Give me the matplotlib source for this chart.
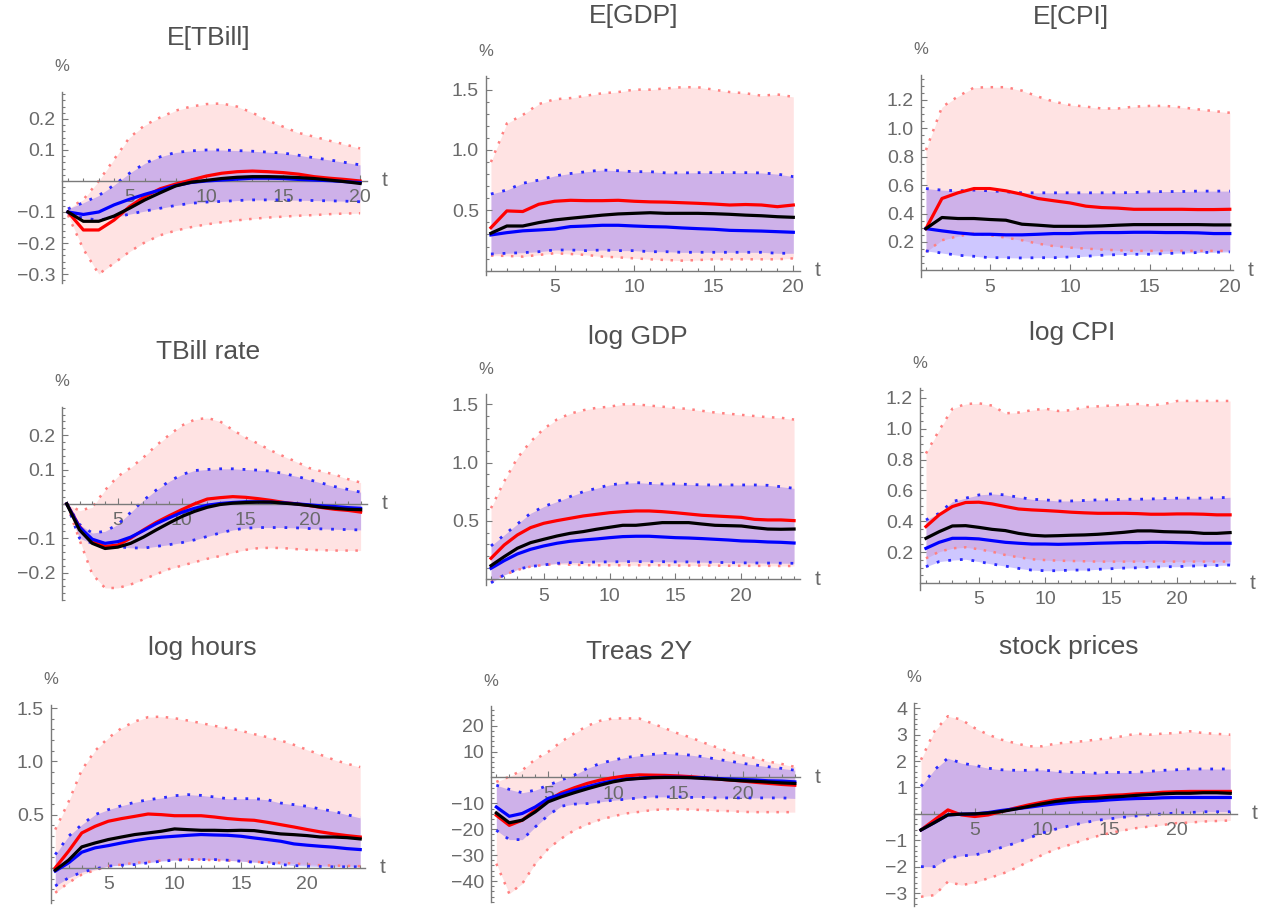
"""Impulse responses (3x3 grid) with two confidence bands, Mathematica-style axes."""

import matplotlib

matplotlib.use("Agg")
import matplotlib.pyplot as plt
import numpy as np
from matplotlib.ticker import MultipleLocator
from matplotlib.transforms import blended_transform_factory

W, H = 1264, 909

# horizons
t20 = np.arange(1, 21)
t24 = np.arange(1, 25)

# ---- E[TBill] ----
etbill_red = [-0.10, -0.158, -0.158, -0.126, -0.083, -0.05, -0.025, -0.01, 0.003, 0.016,
              0.025, 0.03, 0.032, 0.03, 0.027, 0.022, 0.014, 0.009, 0.005, 0.0]
etbill_black = [-0.10, -0.13, -0.13, -0.113, -0.088, -0.061, -0.038, -0.016, -0.004, 0.002,
                0.008, 0.012, 0.014, 0.014, 0.013, 0.011, 0.008, 0.003, -0.002, -0.008]
etbill_blue = [-0.10, -0.108, -0.10, -0.077, -0.059, -0.043, -0.029, -0.015, -0.005, 0.0,
               0.003, 0.006, 0.009, 0.009, 0.008, 0.005, 0.003, 0.001, -0.002, -0.005]
etbill_red_hi = [-0.09, -0.06, 0.0, 0.07, 0.14, 0.18, 0.205, 0.227, 0.24, 0.248,
                 0.25, 0.24, 0.22, 0.195, 0.175, 0.155, 0.143, 0.13, 0.118, 0.105]
etbill_red_lo = [-0.11, -0.22, -0.30, -0.265, -0.228, -0.198, -0.175, -0.16, -0.149, -0.14,
                 -0.133, -0.127, -0.122, -0.118, -0.115, -0.112, -0.11, -0.107, -0.105, -0.104]
etbill_blue_hi = [-0.09, -0.07, -0.047, -0.013, 0.025, 0.057, 0.078, 0.092, 0.097, 0.1,
                  0.1, 0.098, 0.096, 0.093, 0.09, 0.083, 0.075, 0.068, 0.06, 0.052]
etbill_blue_lo = [-0.105, -0.12, -0.126, -0.118, -0.107, -0.097, -0.088, -0.079, -0.072, -0.068,
                  -0.066, -0.063, -0.061, -0.061, -0.061, -0.062, -0.063, -0.064, -0.065, -0.067]

# ---- E[GDP] ----
egdp_red = [0.356, 0.495, 0.49, 0.55, 0.575, 0.583, 0.58, 0.58, 0.583, 0.575,
            0.57, 0.568, 0.563, 0.558, 0.552, 0.544, 0.548, 0.544, 0.53, 0.544]
egdp_black = [0.31, 0.37, 0.37, 0.398, 0.42, 0.434, 0.447, 0.46, 0.47, 0.475,
              0.48, 0.475, 0.475, 0.475, 0.472, 0.467, 0.46, 0.455, 0.447, 0.442]
egdp_blue = [0.296, 0.315, 0.33, 0.337, 0.345, 0.365, 0.37, 0.376, 0.376, 0.37,
             0.365, 0.362, 0.354, 0.348, 0.343, 0.334, 0.331, 0.328, 0.323, 0.318]
egdp_red_hi = [0.9, 1.22, 1.29, 1.38, 1.42, 1.43, 1.45, 1.47, 1.48, 1.5,
               1.5, 1.51, 1.52, 1.52, 1.5, 1.48, 1.47, 1.45, 1.46, 1.44]
egdp_red_lo = [0.125, 0.122, 0.116, 0.13, 0.144, 0.138, 0.13, 0.116, 0.11, 0.102,
               0.094, 0.088, 0.083, 0.088, 0.094, 0.094, 0.094, 0.094, 0.094, 0.102]
egdp_blue_hi = [0.635, 0.668, 0.724, 0.75, 0.785, 0.805, 0.82, 0.834, 0.828, 0.82,
                0.82, 0.81, 0.81, 0.812, 0.812, 0.812, 0.812, 0.81, 0.8, 0.779]
egdp_blue_lo = [0.138, 0.144, 0.149, 0.157, 0.171, 0.171, 0.166, 0.171, 0.166, 0.166,
                0.157, 0.157, 0.152, 0.152, 0.152, 0.152, 0.152, 0.152, 0.144, 0.144]

# ---- E[CPI] ----
ecpi_red = [0.294, 0.506, 0.546, 0.576, 0.576, 0.56, 0.536, 0.506, 0.49, 0.475,
            0.452, 0.442, 0.438, 0.43, 0.43, 0.43, 0.43, 0.428, 0.428, 0.43]
ecpi_black = [0.294, 0.372, 0.365, 0.365, 0.358, 0.353, 0.325, 0.318, 0.31, 0.31,
              0.31, 0.313, 0.318, 0.322, 0.322, 0.322, 0.322, 0.322, 0.32, 0.32]
ecpi_blue = [0.294, 0.278, 0.264, 0.254, 0.254, 0.25, 0.25, 0.254, 0.259, 0.259,
             0.264, 0.266, 0.266, 0.268, 0.268, 0.266, 0.266, 0.264, 0.259, 0.259]
ecpi_red_hi = [0.847, 1.15, 1.225, 1.287, 1.29, 1.29, 1.266, 1.224, 1.188, 1.165,
               1.153, 1.14, 1.14, 1.153, 1.158, 1.158, 1.148, 1.134, 1.122, 1.11]
ecpi_red_lo = [0.13, 0.212, 0.24, 0.26, 0.247, 0.23, 0.212, 0.188, 0.17, 0.16,
               0.153, 0.146, 0.141, 0.137, 0.137, 0.137, 0.137, 0.137, 0.137, 0.137]
ecpi_blue_hi = [0.576, 0.565, 0.56, 0.565, 0.56, 0.553, 0.546, 0.546, 0.546, 0.546,
                0.546, 0.546, 0.546, 0.548, 0.553, 0.555, 0.555, 0.558, 0.558, 0.558]
ecpi_blue_lo = [0.137, 0.122, 0.106, 0.099, 0.089, 0.089, 0.087, 0.089, 0.089, 0.094,
                0.099, 0.106, 0.111, 0.113, 0.113, 0.118, 0.122, 0.125, 0.127, 0.13]

# ---- TBill rate ----
tbill_red = [0.0, -0.066, -0.11, -0.124, -0.12, -0.1, -0.076, -0.054, -0.035, -0.017, 0.0, 0.014,
             0.018, 0.021, 0.019, 0.015, 0.01, 0.004, 0.0, -0.005, -0.011, -0.016, -0.019, -0.024]
tbill_black = [0.0, -0.076, -0.115, -0.13, -0.126, -0.115, -0.097, -0.076, -0.056, -0.037, -0.022, -0.01,
               -0.002, 0.002, 0.004, 0.005, 0.005, 0.002, -0.001, -0.005, -0.01, -0.013, -0.016, -0.017]
tbill_blue = [0.0, -0.068, -0.103, -0.115, -0.11, -0.097, -0.078, -0.058, -0.041, -0.025, -0.013, -0.004,
              0.001, 0.004, 0.006, 0.006, 0.005, 0.003, 0.0, -0.003, -0.006, -0.008, -0.011, -0.013]
tbill_red_hi = [0.0, -0.02, -0.01, 0.04, 0.08, 0.105, 0.135, 0.17, 0.2, 0.228, 0.245, 0.25,
                0.24, 0.215, 0.193, 0.175, 0.155, 0.138, 0.122, 0.104, 0.094, 0.085, 0.072, 0.062]
tbill_red_lo = [0.0, -0.105, -0.205, -0.245, -0.245, -0.235, -0.22, -0.205, -0.19, -0.18, -0.17, -0.16,
                -0.152, -0.142, -0.134, -0.129, -0.128, -0.129, -0.132, -0.134, -0.135, -0.136, -0.136, -0.136]
tbill_blue_hi = [0.0, -0.06, -0.085, -0.08, -0.06, -0.025, 0.01, 0.04, 0.065, 0.085, 0.097, 0.1,
                 0.102, 0.102, 0.1, 0.098, 0.095, 0.088, 0.08, 0.07, 0.06, 0.05, 0.042, 0.034]
tbill_blue_lo = [0.0, -0.1, -0.115, -0.12, -0.125, -0.128, -0.129, -0.124, -0.119, -0.113, -0.105, -0.095,
                 -0.085, -0.076, -0.071, -0.069, -0.069, -0.069, -0.07, -0.072, -0.073, -0.074, -0.075, -0.076]

# ---- log GDP ----
lgdp_red = [0.18, 0.294, 0.38, 0.443, 0.48, 0.503, 0.523, 0.543, 0.557, 0.571, 0.58, 0.586,
            0.586, 0.58, 0.571, 0.56, 0.549, 0.543, 0.537, 0.531, 0.514, 0.509, 0.509, 0.503]
lgdp_black = [0.117, 0.194, 0.266, 0.314, 0.343, 0.371, 0.394, 0.409, 0.429, 0.446, 0.463, 0.463,
              0.474, 0.486, 0.486, 0.486, 0.474, 0.463, 0.46, 0.457, 0.443, 0.431, 0.429, 0.431]
lgdp_blue = [0.094, 0.16, 0.217, 0.257, 0.286, 0.309, 0.326, 0.337, 0.346, 0.357, 0.366, 0.369,
             0.369, 0.363, 0.357, 0.354, 0.349, 0.343, 0.337, 0.329, 0.326, 0.32, 0.317, 0.311]
lgdp_red_hi = [0.61, 0.84, 1.04, 1.18, 1.29, 1.37, 1.42, 1.45, 1.47, 1.48, 1.5, 1.5,
               1.49, 1.48, 1.47, 1.46, 1.445, 1.43, 1.42, 1.41, 1.4, 1.39, 1.385, 1.37]
lgdp_red_lo = [-0.02, 0.037, 0.08, 0.109, 0.123, 0.131, 0.125, 0.122, 0.12, 0.12, 0.12, 0.12,
               0.12, 0.12, 0.118, 0.118, 0.118, 0.117, 0.116, 0.116, 0.115, 0.115, 0.114, 0.114]
lgdp_blue_hi = [0.286, 0.38, 0.474, 0.566, 0.623, 0.666, 0.709, 0.751, 0.78, 0.809, 0.823, 0.829,
                0.823, 0.817, 0.817, 0.814, 0.809, 0.809, 0.809, 0.809, 0.809, 0.806, 0.794, 0.78]
lgdp_blue_lo = [-0.03, 0.037, 0.086, 0.109, 0.123, 0.137, 0.143, 0.143, 0.149, 0.149, 0.151, 0.151,
                0.151, 0.151, 0.149, 0.149, 0.147, 0.145, 0.143, 0.141, 0.14, 0.139, 0.138, 0.137]

# ---- log CPI ----
lcpi_red = [0.366, 0.442, 0.496, 0.522, 0.524, 0.513, 0.496, 0.48, 0.474, 0.47, 0.465, 0.459,
            0.455, 0.452, 0.452, 0.452, 0.45, 0.446, 0.446, 0.448, 0.448, 0.446, 0.442, 0.442]
lcpi_black = [0.29, 0.333, 0.37, 0.372, 0.361, 0.348, 0.34, 0.322, 0.31, 0.305, 0.307, 0.31,
              0.312, 0.316, 0.322, 0.329, 0.338, 0.338, 0.333, 0.331, 0.329, 0.322, 0.322, 0.327]
lcpi_blue = [0.225, 0.264, 0.29, 0.29, 0.286, 0.275, 0.264, 0.258, 0.253, 0.253, 0.251, 0.253,
             0.255, 0.258, 0.26, 0.262, 0.262, 0.264, 0.264, 0.262, 0.26, 0.258, 0.258, 0.258]
lcpi_red_hi = [0.84, 0.99, 1.13, 1.16, 1.165, 1.15, 1.1, 1.105, 1.12, 1.13, 1.115, 1.12,
               1.14, 1.145, 1.15, 1.155, 1.16, 1.15, 1.16, 1.18, 1.18, 1.18, 1.18, 1.18]
lcpi_red_lo = [0.16, 0.203, 0.225, 0.232, 0.219, 0.203, 0.182, 0.167, 0.154, 0.149, 0.145, 0.143,
               0.141, 0.139, 0.139, 0.139, 0.139, 0.139, 0.139, 0.139, 0.139, 0.139, 0.139, 0.139]
lcpi_blue_hi = [0.409, 0.452, 0.528, 0.55, 0.571, 0.578, 0.571, 0.556, 0.543, 0.539, 0.532, 0.532,
                0.535, 0.539, 0.539, 0.543, 0.543, 0.545, 0.547, 0.55, 0.55, 0.55, 0.552, 0.556]
lcpi_blue_lo = [0.106, 0.139, 0.149, 0.154, 0.139, 0.123, 0.11, 0.095, 0.084, 0.08, 0.08, 0.084,
                0.084, 0.089, 0.093, 0.097, 0.099, 0.102, 0.106, 0.106, 0.11, 0.112, 0.114, 0.117]

# ---- log hours ----
hours_red = [0.0, 0.156, 0.328, 0.39, 0.438, 0.463, 0.484, 0.506, 0.5, 0.49, 0.49, 0.49,
             0.478, 0.463, 0.453, 0.447, 0.428, 0.406, 0.384, 0.36, 0.338, 0.319, 0.303, 0.29]
hours_black = [-0.022, 0.072, 0.197, 0.234, 0.266, 0.29, 0.313, 0.328, 0.344, 0.366, 0.359, 0.353,
               0.353, 0.35, 0.353, 0.35, 0.334, 0.319, 0.312, 0.303, 0.29, 0.29, 0.284, 0.272]
hours_blue = [-0.03, 0.047, 0.147, 0.188, 0.209, 0.234, 0.256, 0.275, 0.288, 0.297, 0.306, 0.313,
              0.309, 0.306, 0.297, 0.281, 0.266, 0.25, 0.225, 0.213, 0.203, 0.194, 0.181, 0.172]
hours_red_hi = [0.36, 0.62, 0.92, 1.1, 1.22, 1.313, 1.375, 1.416, 1.42, 1.406, 1.384, 1.36,
                1.334, 1.313, 1.288, 1.256, 1.228, 1.197, 1.156, 1.109, 1.063, 1.016, 0.978, 0.947]
hours_red_lo = [-0.234, -0.14, -0.063, -0.022, 0.016, 0.031, 0.047, 0.056, 0.069, 0.078, 0.078, 0.078,
                0.072, 0.069, 0.063, 0.056, 0.053, 0.047, 0.041, 0.031, 0.025, 0.022, 0.019, 0.016]
hours_blue_hi = [0.125, 0.297, 0.406, 0.5, 0.547, 0.584, 0.616, 0.64, 0.656, 0.678, 0.688, 0.681,
                 0.666, 0.65, 0.65, 0.65, 0.64, 0.609, 0.594, 0.578, 0.553, 0.531, 0.5, 0.469]
hours_blue_lo = [-0.17, -0.094, -0.04, -0.01, 0.016, 0.025, 0.031, 0.047, 0.063, 0.072, 0.078, 0.078,
                 0.078, 0.072, 0.063, 0.053, 0.047, 0.031, 0.022, 0.016, 0.013, 0.01, 0.01, 0.01]

# ---- Treas 2Y ----
treas_red = [-14.6, -18.5, -16.5, -12.6, -8.8, -5.9, -4.0, -2.3, -1.0, -0.1, 0.6, 1.0,
             0.9, 0.8, 0.6, 0.3, -0.1, -0.6, -1.0, -1.4, -1.9, -2.3, -2.7, -3.0]
treas_black = [-13.7, -17.5, -16.5, -13.3, -9.4, -7.5, -5.9, -4.4, -3.0, -1.7, -0.8, -0.4,
               -0.1, 0.0, 0.0, -0.1, -0.4, -0.6, -1.0, -1.3, -1.5, -1.8, -2.1, -2.3]
treas_blue = [-11.4, -15.0, -13.9, -11.4, -8.1, -6.5, -4.9, -3.6, -2.3, -1.3, -0.6, -0.3,
              0.0, 0.1, 0.1, 0.0, -0.1, -0.4, -0.6, -0.8, -1.0, -1.3, -1.4, -1.7]
treas_red_hi = [-1.7, 0.3, 2.8, 7.0, 9.9, 13.8, 17.0, 19.9, 21.9, 22.8, 22.8, 22.8,
                20.9, 19.0, 17.0, 15.4, 13.4, 11.6, 9.9, 8.6, 7.4, 6.1, 5.2, 4.1]
treas_red_lo = [-33.3, -44.9, -41.0, -33.3, -27.5, -23.6, -20.4, -18.1, -16.3, -15.0, -13.9, -13.3,
                -12.6, -12.3, -12.3, -12.4, -12.6, -12.9, -13.0, -13.3, -13.4, -13.4, -13.4, -13.4]
treas_blue_hi = [-3.0, -4.6, -5.9, -4.9, -3.0, -1.0, 0.9, 3.5, 5.4, 6.7, 7.7, 8.4,
                 8.9, 9.3, 9.0, 8.6, 8.0, 7.0, 6.3, 5.4, 4.8, 4.1, 3.5, 2.8]
treas_blue_lo = [-20.4, -24.0, -24.0, -19.1, -14.6, -11.1, -10.3, -10.1, -9.4, -8.8, -8.4, -7.9,
                 -7.5, -7.5, -7.5, -7.7, -7.7, -7.9, -7.9, -7.9, -7.9, -7.9, -7.9, -8.1]

# ---- stock prices ----
stock_red = [-0.61, -0.23, 0.15, -0.04, -0.1, -0.04, 0.09, 0.22, 0.34, 0.44, 0.53, 0.59,
             0.63, 0.66, 0.7, 0.72, 0.76, 0.78, 0.82, 0.84, 0.85, 0.85, 0.85, 0.85]
stock_black = [-0.61, -0.33, -0.04, -0.01, 0.0, 0.03, 0.09, 0.18, 0.28, 0.38, 0.47, 0.53,
               0.57, 0.59, 0.63, 0.66, 0.7, 0.73, 0.76, 0.78, 0.78, 0.8, 0.8, 0.78]
stock_blue = [-0.61, -0.33, -0.04, -0.01, 0.0, 0.05, 0.13, 0.19, 0.25, 0.32, 0.38, 0.43,
              0.47, 0.49, 0.53, 0.56, 0.58, 0.59, 0.61, 0.62, 0.62, 0.62, 0.62, 0.62]
stock_red_hi = [2.05, 3.13, 3.7, 3.57, 3.25, 3.0, 2.81, 2.68, 2.56, 2.56, 2.66, 2.71,
                2.75, 2.81, 2.87, 2.94, 3.04, 3.0, 3.04, 3.06, 3.13, 3.06, 3.03, 3.0]
stock_red_lo = [-3.14, -3.08, -2.57, -2.7, -2.61, -2.44, -2.28, -2.06, -1.81, -1.56, -1.34, -1.18,
                -1.01, -0.86, -0.73, -0.63, -0.54, -0.48, -0.42, -0.35, -0.33, -0.29, -0.27, -0.25]
stock_blue_hi = [1.04, 1.67, 2.11, 1.92, 1.84, 1.73, 1.67, 1.65, 1.65, 1.67, 1.61, 1.57,
                 1.57, 1.54, 1.57, 1.57, 1.57, 1.61, 1.65, 1.67, 1.7, 1.7, 1.7, 1.7]
stock_blue_lo = [-2.0, -2.0, -1.68, -1.59, -1.56, -1.43, -1.27, -1.11, -0.92, -0.73, -0.58, -0.46,
                 -0.35, -0.25, -0.19, -0.13, -0.08, -0.04, 0.0, 0.03, 0.05, 0.08, 0.08, 0.08]

titles = ["E[TBill]", "E[GDP]", "E[CPI]", "TBill rate", "log GDP", "log CPI",
          "log hours", "Treas 2Y", "stock prices"]
x_ticks = [5, 10, 15, 20]
y_ticks = [
    [-0.3, -0.2, -0.1, 0.1, 0.2],
    [0.5, 1.0, 1.5],
    [0.2, 0.4, 0.6, 0.8, 1.0, 1.2],
    [-0.2, -0.1, 0.1, 0.2],
    [0.5, 1.0, 1.5],
    [0.2, 0.4, 0.6, 0.8, 1.0, 1.2],
    [0.5, 1.0, 1.5],
    [-40, -30, -20, -10, 10, 20],
    [-3, -2, -1, 1, 2, 3, 4],
]

series = [
    (t20, etbill_red, etbill_black, etbill_blue, etbill_red_hi, etbill_red_lo, etbill_blue_hi, etbill_blue_lo),
    (t20, egdp_red, egdp_black, egdp_blue, egdp_red_hi, egdp_red_lo, egdp_blue_hi, egdp_blue_lo),
    (t20, ecpi_red, ecpi_black, ecpi_blue, ecpi_red_hi, ecpi_red_lo, ecpi_blue_hi, ecpi_blue_lo),
    (t24, tbill_red, tbill_black, tbill_blue, tbill_red_hi, tbill_red_lo, tbill_blue_hi, tbill_blue_lo),
    (t24, lgdp_red, lgdp_black, lgdp_blue, lgdp_red_hi, lgdp_red_lo, lgdp_blue_hi, lgdp_blue_lo),
    (t24, lcpi_red, lcpi_black, lcpi_blue, lcpi_red_hi, lcpi_red_lo, lcpi_blue_hi, lcpi_blue_lo),
    (t24, hours_red, hours_black, hours_blue, hours_red_hi, hours_red_lo, hours_blue_hi, hours_blue_lo),
    (t24, treas_red, treas_black, treas_blue, treas_red_hi, treas_red_lo, treas_blue_hi, treas_blue_lo),
    (t24, stock_red, stock_black, stock_blue, stock_red_hi, stock_red_lo, stock_blue_hi, stock_blue_lo),
]

# layout: pixel box (left, top, right, bottom), title centre, axis ranges, minor step, decimals
boxes = [
    (62, 92, 367, 283), (486, 76, 800, 275), (921, 75, 1233, 277),
    (62, 407, 367, 600), (486, 394, 800, 585), (920, 388, 1235, 590),
    (51, 705, 365, 903), (491, 706, 800, 902), (914, 703, 1237, 906),
]
title_xy = [(209, 38), (634, 16), (1071, 17), (208, 352), (638, 337), (1072, 333),
            (202, 648), (639, 652), (1069, 647)]
xlims = [(0.61, 20.45), (0.69, 20.42), (0.69, 20.2),
         (0.63, 24.5), (0.62, 24.45), (0.55, 24.37),
         (0.68, 24.36), (0.59, 24.4), (0.48, 24.5)]
ylims = [(-0.329, 0.287), (-0.036, 1.613), (-0.047, 1.376),
         (-0.28, 0.282), (-0.049, 1.589), (-0.045, 1.264),
         (-0.33, 1.53), (-48.1, 27.6), (-3.49, 4.2)]
minor_steps = [0.02, 0.1, 0.05, 0.02, 0.1, 0.05, 0.1, 2, 0.2]
decimals = [1, 1, 1, 1, 1, 1, 1, 0, 0]

AX_COL = "#7a7a7a"
TXT_COL = "#6a6a6a"
TITLE_COL = "#505050"
FONT = "Liberation Sans"


def fmt(v, nd):
    return f"{v:.{nd}f}".replace("-", "\u2212")


def draw_panel(ax, data, yt, nd, xlim, ylim, minor):
    t, red, black, blue, red_hi, red_lo, blue_hi, blue_lo = data
    ax.fill_between(t, red_lo, red_hi, color="#ff0000", alpha=0.11, lw=0, zorder=1)
    ax.fill_between(t, blue_lo, blue_hi, color="#2000ff", alpha=0.22, lw=0, zorder=1.1)
    for s in (red_hi, red_lo):
        ax.plot(t, s, color="#ff8080", lw=1.8, ls=(0, (1, 3)), zorder=2)
    for s in (blue_hi, blue_lo):
        ax.plot(t, s, color="#2a2aff", lw=2.0, ls=(0, (1, 3.2)), zorder=2)
    ax.plot(t, red, color="#ff0000", lw=2.3, zorder=3)
    ax.plot(t, blue, color="#0000ff", lw=2.3, zorder=3)
    ax.plot(t, black, color="#000000", lw=2.3, zorder=3)

    ax.set_xlim(*xlim)
    ax.set_ylim(*ylim)
    ax.set_facecolor("none")
    for side in ("top", "right"):
        ax.spines[side].set_visible(False)
    ax.spines["bottom"].set_position(("data", 0))
    for side in ("left", "bottom"):
        ax.spines[side].set_color(AX_COL)
        ax.spines[side].set_linewidth(1.0)

    ax.set_xticks(x_ticks)
    ax.set_xticklabels([str(v) for v in x_ticks])
    ax.set_yticks(yt)
    ax.set_yticklabels([fmt(v, nd) for v in yt])
    ax.xaxis.set_minor_locator(MultipleLocator(1))
    ax.yaxis.set_minor_locator(MultipleLocator(minor))
    ax.tick_params(which="both", direction="in", color=AX_COL, width=0.8)
    ax.tick_params(which="major", length=4.5)
    ax.tick_params(which="minor", length=2.2)
    ax.tick_params(axis="x", which="major", pad=6, labelsize=14, labelcolor=TXT_COL)
    ax.tick_params(axis="y", which="major", pad=5, labelsize=14, labelcolor=TXT_COL)
    for lab in ax.get_xticklabels() + ax.get_yticklabels():
        lab.set_fontfamily(FONT)

    # axis labels placed like Mathematica's AxesLabel
    ax.annotate("%", xy=(0, 1), xycoords="axes fraction", xytext=(0, 18),
                textcoords="offset points", ha="center", va="center",
                fontsize=12, color=TXT_COL, family=FONT)
    tr = blended_transform_factory(ax.transAxes, ax.transData)
    ax.annotate("t", xy=(1, 0), xycoords=tr, xytext=(13, 0),
                textcoords="offset points", ha="center", va="center",
                fontsize=15, color=TXT_COL, family=FONT)


def main():
    fig = plt.figure(figsize=(W / 100, H / 100), dpi=100)
    for i in range(9):
        left, top, right, bottom = boxes[i]
        ax = fig.add_axes([left / W, 1 - bottom / H, (right - left) / W, (bottom - top) / H])
        draw_panel(ax, series[i], y_ticks[i], decimals[i], xlims[i], ylims[i], minor_steps[i])
        tx, ty = title_xy[i]
        fig.text(tx / W, 1 - ty / H, titles[i], ha="center", va="center",
                 fontsize=19, color=TITLE_COL, family=FONT)
    fig.savefig("out.png", dpi=100)
    plt.close(fig)


if __name__ == "__main__":
    main()
